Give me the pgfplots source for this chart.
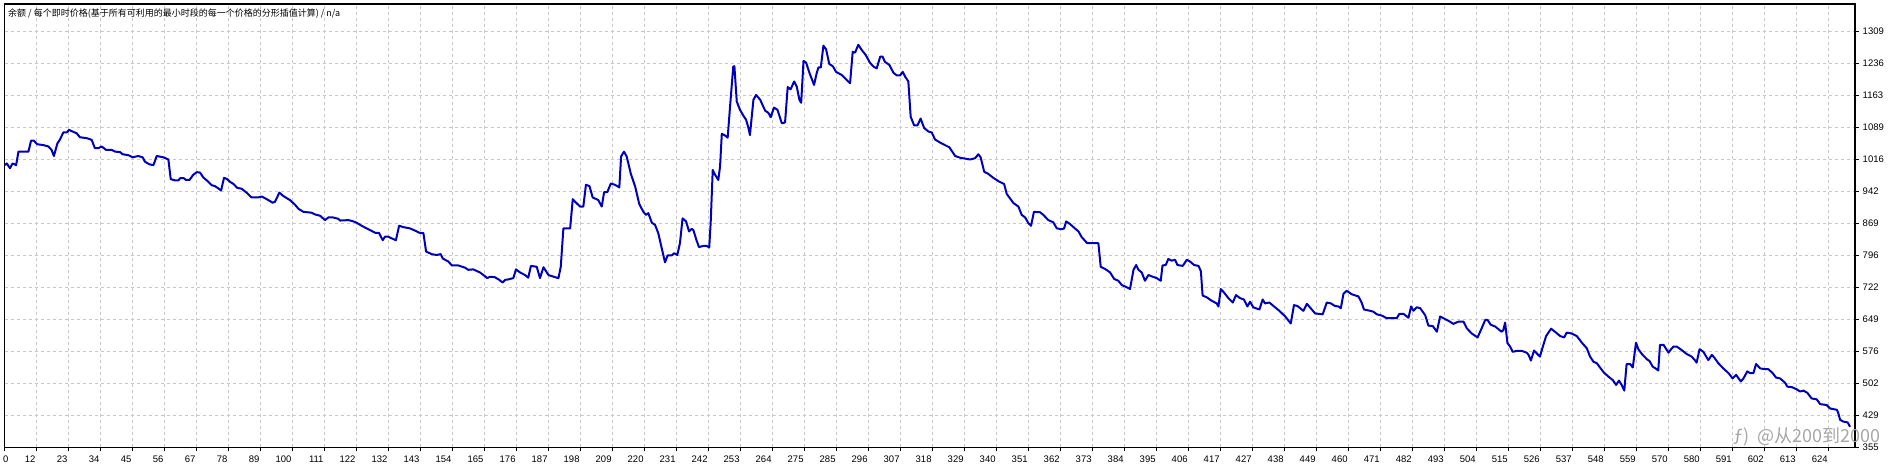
\documentclass[border=0pt]{standalone}
\usepackage{pgfplots}
\pgfplotsset{compat=1.18}
\usepackage{fontspec}
\setmainfont{Liberation Sans}
\newfontfamily\cjk{Noto Sans CJK SC}
\definecolor{mtblue}{RGB}{0,0,185}
\definecolor{gridc}{RGB}{200,200,200}
\begin{document}
\begin{tikzpicture}
\begin{axis}[
  at={(4.7pt,17.7pt)}, anchor=south west,
  scale only axis, width=1850.3pt, height=443.3pt,
  xmin=0, xmax=631.9, ymin=355, ymax=1371.6,
  axis line style={black, line width=1.1pt},
  tick align=outside, major tick length=3.5pt,
  tick style={black, line width=0.8pt},
  xtick pos=bottom, ytick pos=right, yticklabel pos=right,
  xtick={0,10.929,...,623},
  xticklabels={\rlap{0},12,23,34,45,56,67,78,89,100,111,122,132,143,154,165,176,187,198,209,220,231,242,253,264,275,285,296,307,318,329,340,351,362,373,384,395,406,417,427,438,449,460,471,482,493,504,515,526,537,548,559,570,580,591,602,613,624},
  ytick={355,428.385,501.77,575.155,648.54,721.925,795.31,868.695,942.08,1015.465,1088.85,1162.235,1235.62,1309.005},
  yticklabels={355,429,502,576,649,722,796,869,942,1016,1089,1163,1236,1309},
  xticklabel style={anchor=north east, inner sep=0pt, xshift=-1pt, yshift=-4.5pt, font=\fontsize{9.5}{11}\selectfont},
  yticklabel style={anchor=west, inner sep=0pt, xshift=4pt, font=\fontsize{9.5}{11}\selectfont},
  grid=major,
  major grid style={gridc, line width=0.8pt, dash pattern=on 3pt off 3pt},
  /pgf/number format/assume math mode=true,
]
\addplot[mtblue, line width=2pt, line join=round] coordinates {
(0.1,1002)(0.7,1006)(1.8,995)(2.7,1006)(3.9,1002)(4.7,1033)(8.1,1033)(9.0,1058)(10.0,1058)(11.1,1050)
(13.2,1048)(14.9,1045)(16.0,1037)(16.8,1023)(18.0,1052)(18.9,1061)(20.0,1077)(21.2,1077)(22.0,1083)(22.9,1080)
(24.6,1075)(25.7,1066)(28.0,1064)(29.7,1060)(30.8,1041)(32.0,1041)(33.1,1045)(34.6,1037)(36.5,1037)(37.7,1033)
(39.4,1032)(40.3,1027)(42.2,1025)(43.7,1020)(45.6,1023)(47.1,1020)(47.9,1010)(49.4,1004)(50.8,1002)(51.9,1023)
(54.2,1020)(55.9,1015)(56.7,970)(58.2,967)(59.3,967)(59.9,972)(61.2,972)(61.9,968)(63.1,968)(64.4,980)
(65.6,986)(66.7,985)(67.8,974)(69.2,966)(70.7,956)(71.8,954)(72.9,949)(73.9,944)(74.9,973)(76.0,970)
(76.9,964)(78.1,959)(79.4,950)(80.9,948)(82.6,939)(84.3,928)(86.6,928)(87.8,930)(89.5,924)(91.5,916)
(92.3,918)(93.8,939)(95.2,931)(97.4,922)(99.2,911)(100.3,902)(102.0,895)(104.8,893)(106.0,889)(107.7,886)
(109.4,876)(110.5,882)(112.2,882)(113.9,879)(114.5,875)(117.4,876)(119.1,873)(120.2,870)(121.9,863)(123.6,857)
(124.8,853)(126.5,847)(127.8,847)(129.1,830)(129.9,838)(131.0,838)(132.2,834)(133.6,830)(134.7,863)(136.1,860)
(138.4,857)(140.1,852)(141.6,847)(143.0,846)(143.9,804)(145.8,798)(147.5,796)(148.9,798)(149.6,788)(151.5,781)
(152.7,772)(154.9,772)(157.2,767)(158.3,762)(160.0,763)(162.3,756)(163.5,750)(164.8,743)(165.7,746)(167.4,745)
(168.9,739)
(169.2,737)(170.1,733)(170.9,739)(172.0,740)(173.7,743)(174.6,763)(176.0,756)(177.7,750)(178.8,744)(179.7,771)
(181.7,769)(182.8,743)(184.0,768)(185.7,750)(188.0,745)(189.1,743)(189.9,769)(190.8,857)(193.1,857)(194.0,924)
(194.8,918)(196.5,907)(197.6,907)(198.5,957)(199.7,954)(200.8,928)(202.7,922)(203.9,907)(204.7,940)(205.8,940)
(207.0,960)(208.4,957)(209.9,951)(210.5,1022)(211.5,1033)(212.4,1022)(213.8,983)(215.3,953)(216.7,913)(218.1,895)
(219.0,888)(219.8,892)(221.0,870)(222.1,865)(223.2,846)(224.4,811)(225.5,779)(226.4,795)(227.8,795)(228.6,800)
(229.7,796)(230.6,823)(231.5,880)(232.7,873)(233.7,850)(234.6,856)(235.2,853)(236.3,829)(237.1,814)(238.6,817)
(239.7,817)(240.6,813)(241.1,870)(241.8,991)(242.6,980)(243.7,968)(244.3,999)(244.9,1074)(246.0,1070)(246.9,1065)
(247.7,1135)(248.8,1228)(249.2,1229)(250.0,1148)(251.1,1129)(252.3,1115)(253.2,1106)(254.0,1087)(254.5,1071)(255.7,1152)
(256.6,1163)(258.0,1152)(259.7,1127)(260.8,1122)(261.6,1112)(262.7,1134)(263.9,1129)(265.4,1098)(266.5,1100)(267.4,1181)
(268.4,1176)(269.6,1194)(270.5,1182)(271.4,1152)(272.0,1145)(272.8,1241)(273.7,1237)(274.8,1214)(276.4,1186)(277.3,1213)
(277.9,1226)(278.7,1226)(279.6,1276)(280.5,1268)(281.6,1234)(282.8,1229)(283.9,1216)(285.8,1209)(287.6,1197)(288.7,1190)
(289.6,1262)(290.4,1260)(291.5,1278)(292.7,1266)(294.0,1255)(295.5,1237)(296.7,1228)(297.8,1224)(299.0,1251)(299.8,1251)
(300.6,1239)(302.1,1232)(303.5,1214)(304.6,1208)(305.8,1208)(306.7,1216)(307.5,1205)(308.6,1194)(309.4,1113)(310.6,1093)
(311.7,1093)(312.8,1109)(314.0,1087)(315.5,1079)(316.6,1077)(317.7,1061)(319.4,1054)(321.1,1048)(322.6,1043)(324.6,1023)
(326.3,1019)(329.7,1015)(331.4,1018)(332.5,1027)(333.3,1020)(334.5,987)(335.9,982)(337.6,973)(339.7,964)
(341.3,959)(342.2,936)(343.3,926)(344.5,915)(346.2,907)(347.3,888)(348.5,882)(349.6,869)(350.5,863)(351.5,895)
(353.6,894)(354.7,888)(356.4,876)(358.1,871)(359.3,857)(361.0,855)(361.8,857)(362.5,873)(363.8,867)(365.5,857)
(366.7,850)(367.8,837)(369.7,823)(373.5,823)(374.3,769)(375.8,764)(377.5,756)(378.9,741)(380.3,737)(381.5,727)
(383.2,722)(384.3,718)(385.5,762)(386.4,773)(387.2,762)(388.3,756)(389.4,737)(390.6,750)(392.1,746)(393.4,743)
(394.8,737)(395.4,772)(396.5,773)(397.4,787)(398.5,783)(399.7,785)(400.5,773)(402.3,771)(403.7,785)(404.8,781)
(406.2,773)(407.7,771)(408.5,759)(409.1,703)(410.5,699)(412.2,691)(413.9,685)(414.5,678)(415.3,718)(416.4,710)
(417.9,697)(419.4,687)(420.5,704)(421.9,697)(423.2,694)(424.4,678)(425.3,689)(426.4,676)(428.5,671)(429.6,694)
(430.4,685)(431.9,687)(433.3,679)(435.3,668)(437.3,655)(439.2,639)(440.3,681)(441.5,679)(443.5,668)(444.7,684)
(446.0,674)(447.5,662)(450.1,660)(451.5,687)(452.9,685)(454.3,679)(455.5,678)(456.3,674)(457.2,707)(458.3,714)
(460.0,706)(462.3,701)(463.4,687)(464.2,671)(466.3,668)(467.4,666)(468.6,660)(470.3,657)(472.0,651)(475.4,651)
(476.3,661)(477.7,661)(479.4,652)(480.3,678)(481.1,668)(482.2,676)(483.4,674)(485.1,658)(486.2,634)(487.7,633)
(489.1,620)(490.2,655)(492.5,647)
(493.6,643)(494.7,638)(496.4,643)(498.2,643)(499.3,628)(501.0,616)(503.0,607)(504.4,628)(505.6,647)(506.4,647)
(507.5,636)(509.0,632)(510.1,626)(511.2,620)(511.8,624)(512.4,641)(513.2,594)(514.1,586)(515.0,574)(516.4,576)
(518.1,576)(519.8,572)(520.4,567)(521.2,554)(522.3,577)(523.4,569)(524.3,563)(525.2,584)(526.4,610)(528.1,627)
(529.8,618)(531.2,610)(532.6,607)(533.4,618)(535.1,616)(535.7,614)(536.9,610)(538.6,595)(540.3,582)(541.4,563)
(542.6,551)(543.7,548)(544.8,538)(546.2,526)(547.7,517)(549.2,509)(550.3,498)(551.3,508)(552.2,498)(553.1,485)
(553.9,546)(555.1,546)(556.0,538)(557.1,595)(557.9,580)(559.1,569)(560.8,557)(561.7,553)(562.8,540)(564.2,534)
(564.7,531)(565.3,590)(566.5,590)(568.2,572)(569.1,580)(569.9,586)(571.0,586)(572.7,578)(574.4,569)(576.1,563)
(577.3,554)(577.8,549)(578.8,580)(580.1,574)(581.8,555)(583.0,567)(583.8,561)(585.2,548)(586.9,536)(588.7,525)
(590.1,513)(591.3,521)(592.9,506)(593.8,513)(595.1,529)(596.1,525)(597.2,525)(598.1,546)(599.5,536)(601.2,534)
(602.3,534)(603.8,525)(604.9,515)(606.3,513)(608.0,503)(608.8,494)(610.3,493)(612.0,488)(613.1,483)(614.3,485)
(615.6,480)(617.1,467)(618.8,465)(620.0,454)(622.2,452)(623.4,444)(625.7,441)(626.2,433)(626.8,418)(627.9,414)
(629.4,412)(630.2,402)
};
\end{axis}
\node[anchor=base west, inner sep=0pt, font=\cjk\fontsize{9}{10}\selectfont] at (8pt,448pt) {余额 / 每个即时价格(基于所有可利用的最小时段的每一个价格的分形插值计算) / n/a};
\node[anchor=west, inner sep=0pt, text=black!35, font=\cjk\fontsize{18}{20}\selectfont] at (1733pt,28pt) {ƒ)\hspace{8pt}@从200到2000};
\pgfresetboundingbox
\useasboundingbox (0,0) rectangle (1900pt,465pt);
\end{tikzpicture}
\end{document}
